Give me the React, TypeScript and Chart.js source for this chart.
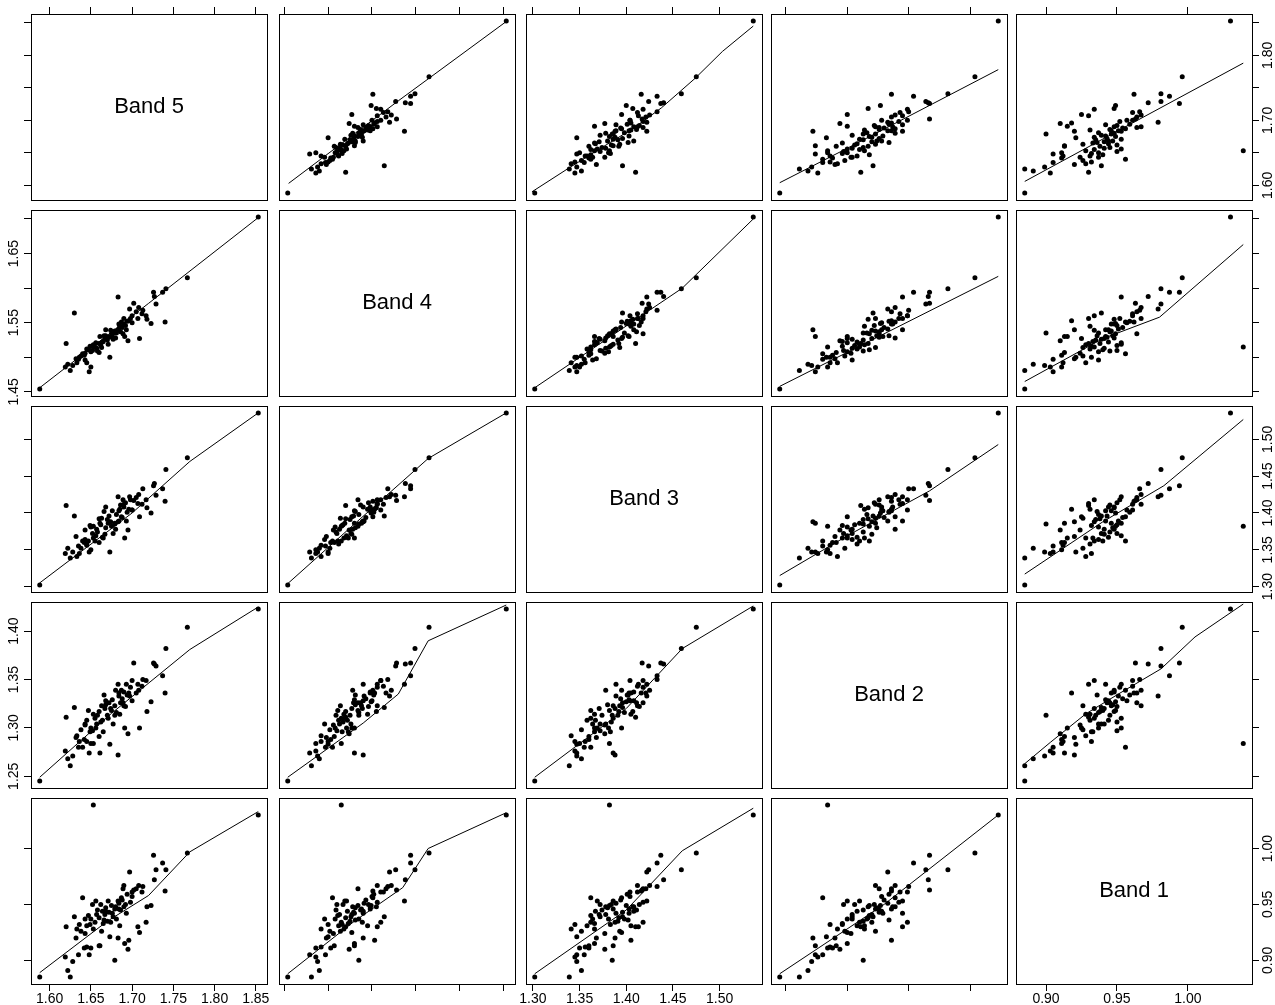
import React, { useEffect, useRef } from "react";
import { Chart, registerables } from "chart.js";

Chart.register(...registerables);

const FONT = "'Liberation Sans', Arial, Helvetica, sans-serif";
Chart.defaults.font.family = FONT;

// ---------- variable names (diagonal) ----------
const bandNames = ["Band 5", "Band 4", "Band 3", "Band 2", "Band 1"];

// ---------- observations (same order in every band) ----------
const band5 = [
  1.588, 1.853, 1.767, 1.741, 1.653, 1.740, 1.630, 1.620, 1.737, 1.726, 1.727, 1.702, 1.697, 1.708, 1.690,
  1.640, 1.652, 1.683, 1.661, 1.679, 1.717, 1.707, 1.696, 1.723, 1.718, 1.709, 1.695, 1.691, 1.683, 1.684,
  1.668, 1.625, 1.622, 1.628, 1.619, 1.648, 1.650, 1.645, 1.660, 1.673, 1.635, 1.642,
  1.632, 1.638, 1.643, 1.636, 1.645, 1.650, 1.655, 1.657, 1.653, 1.660, 1.664, 1.667, 1.670, 1.668, 1.672,
  1.675, 1.676, 1.679, 1.681, 1.684, 1.686, 1.688, 1.690, 1.687, 1.692, 1.694, 1.698, 1.700, 1.662, 1.665,
  1.671, 1.677, 1.658, 1.647, 1.666, 1.674, 1.680, 1.685, 1.663, 1.656, 1.649, 1.693, 1.689, 1.700, 1.705,
  1.712, 1.713, 1.643, 1.633, 1.729,
];
const band4 = [
  1.454, 1.703, 1.615, 1.599, 1.515, 1.551, 1.564, 1.520, 1.594, 1.594, 1.588, 1.578, 1.570, 1.572, 1.556,
  1.505, 1.510, 1.540, 1.530, 1.535, 1.560, 1.556, 1.553, 1.549, 1.555, 1.527, 1.524, 1.530, 1.587, 1.548,
  1.540, 1.481, 1.490, 1.488, 1.486, 1.479, 1.486, 1.492, 1.507, 1.500, 1.497, 1.503,
  1.498, 1.502, 1.506, 1.500, 1.512, 1.508, 1.515, 1.513, 1.518, 1.520, 1.522, 1.527, 1.525, 1.531, 1.529,
  1.534, 1.530, 1.538, 1.535, 1.541, 1.537, 1.543, 1.548, 1.551, 1.546, 1.552, 1.556, 1.550, 1.517, 1.523,
  1.519, 1.526, 1.509, 1.511, 1.531, 1.539, 1.528, 1.545, 1.514, 1.521, 1.516, 1.540, 1.534, 1.560, 1.566,
  1.563, 1.568, 1.496, 1.492, 1.577,
];
const band3 = [
  1.302, 1.536, 1.475, 1.459, 1.382, 1.416, 1.396, 1.410, 1.433, 1.437, 1.440, 1.417, 1.422, 1.425, 1.412,
  1.362, 1.372, 1.388, 1.386, 1.385, 1.418, 1.413, 1.405, 1.400, 1.407, 1.395, 1.377, 1.366, 1.422, 1.403,
  1.408, 1.339, 1.352, 1.347, 1.345, 1.347, 1.350, 1.356, 1.360, 1.347, 1.355, 1.360,
  1.368, 1.352, 1.377, 1.345, 1.358, 1.381, 1.362, 1.378, 1.366, 1.392, 1.367, 1.371, 1.391, 1.380, 1.396,
  1.382, 1.403, 1.386, 1.398, 1.389, 1.411, 1.394, 1.408, 1.395, 1.414, 1.401, 1.418, 1.404, 1.384, 1.366,
  1.386, 1.372, 1.374, 1.362, 1.402, 1.388, 1.378, 1.405, 1.393, 1.369, 1.383, 1.389, 1.418, 1.404, 1.421,
  1.412, 1.433, 1.364, 1.341, 1.424,
];
const band2 = [
  1.245, 1.423, 1.404, 1.382, 1.284, 1.336, 1.321, 1.311, 1.354, 1.367, 1.366, 1.367, 1.333, 1.339, 1.323,
  1.280, 1.297, 1.272, 1.274, 1.313, 1.349, 1.345, 1.336, 1.327, 1.317, 1.300, 1.294, 1.300, 1.345, 1.336,
  1.328, 1.261, 1.268, 1.271, 1.276, 1.274, 1.284, 1.286, 1.291, 1.283, 1.280, 1.288,
  1.290, 1.298, 1.303, 1.286, 1.308, 1.300, 1.310, 1.304, 1.314, 1.317, 1.308, 1.320, 1.313, 1.324, 1.326,
  1.318, 1.329, 1.323, 1.316, 1.333, 1.326, 1.330, 1.337, 1.339, 1.322, 1.334, 1.342, 1.328, 1.306, 1.296,
  1.310, 1.304, 1.313, 1.318, 1.334, 1.320, 1.339, 1.314, 1.323, 1.300, 1.296, 1.345, 1.326, 1.349, 1.336,
  1.343, 1.350, 1.304, 1.292, 1.364,
];
const band1 = [
  0.885, 1.030, 0.996, 0.981, 1.039, 0.962, 0.939, 0.930, 0.987, 0.994, 0.972, 0.963, 0.979, 0.967, 0.967,
  0.956, 0.950, 0.920, 0.913, 0.900, 0.934, 0.930, 0.918, 0.949, 0.948, 0.925, 0.910, 0.915, 0.953, 0.946,
  0.944, 0.885, 0.891, 0.899, 0.903, 0.905, 0.911, 0.912, 0.913, 0.921, 0.905, 0.911,
  0.920, 0.926, 0.924, 0.932, 0.931, 0.937, 0.934, 0.941, 0.928, 0.938, 0.944, 0.941, 0.935, 0.947, 0.943,
  0.949, 0.942, 0.946, 0.937, 0.951, 0.945, 0.954, 0.948, 0.956, 0.950, 0.959, 0.952, 0.957, 0.950, 0.933,
  0.953, 0.939, 0.945, 0.940, 0.936, 0.934, 0.948, 0.931, 0.926, 0.953, 0.932, 0.942, 0.964, 0.961, 0.964,
  0.961, 0.966, 0.937, 0.928, 0.981,
];
const bands = [band5, band4, band3, band2, band1];

// ---------- tick values and labels ----------
const band5Ticks = [1.6, 1.65, 1.7, 1.75, 1.8, 1.85];
const band4Ticks = [1.45, 1.5, 1.55, 1.6, 1.65, 1.7];
const band3Ticks = [1.3, 1.35, 1.4, 1.45, 1.5];
const band2Ticks = [1.25, 1.3, 1.35, 1.4];
const band1Ticks = [0.9, 0.95, 1.0];
const tickValues = [band5Ticks, band4Ticks, band3Ticks, band2Ticks, band1Ticks];

const band5BottomLabels = ["1.60", "1.65", "1.70", "1.75", "1.80", "1.85"];
const band3BottomLabels = ["1.30", "1.35", "1.40", "1.45", "1.50"];
const band1BottomLabels = ["0.90", "0.95", "1.00"];
const bottomLabels = [band5BottomLabels, null, band3BottomLabels, null, band1BottomLabels];

const band5SideLabels = ["1.60", "", "1.70", "", "1.80", ""];
const band4SideLabels = ["1.45", "", "1.55", "", "1.65", ""];
const band3SideLabels = ["1.30", "1.35", "1.40", "1.45", "1.50"];
const band2SideLabels = ["1.25", "1.30", "1.35", "1.40"];
const band1SideLabels = ["0.90", "0.95", "1.00"];
const sideLabels = [band5SideLabels, band4SideLabels, band3SideLabels, band2SideLabels, band1SideLabels];

// ---------- smooth (lowess) lines: [x, y], x = column band, y = row band ----------
const smoothR1C2 = [[1.455, 1.603], [1.58, 1.73], [1.703, 1.852]];
const smoothR1C3 = [[1.299, 1.59], [1.339, 1.627], [1.376, 1.66], [1.408, 1.688], [1.4375, 1.719], [1.474, 1.765], [1.503, 1.806], [1.536, 1.845]];
const smoothR1C4 = [[1.245, 1.604], [1.3, 1.657], [1.423, 1.778]];
const smoothR1C5 = [[0.885, 1.606], [0.95, 1.683], [1.039, 1.788]];
const smoothR2C1 = [[1.588, 1.456], [1.72, 1.578], [1.853, 1.702]];
const smoothR2C3 = [[1.302, 1.456], [1.46, 1.6], [1.536, 1.7]];
const smoothR2C4 = [[1.245, 1.458], [1.423, 1.617]];
const smoothR2C5 = [[0.885, 1.465], [0.94, 1.527], [0.98, 1.558], [1.039, 1.663]];
const smoothR3C1 = [[1.588, 1.305], [1.7, 1.4], [1.77, 1.47], [1.853, 1.536]];
const smoothR3C2 = [[1.454, 1.304], [1.53, 1.385], [1.614, 1.474], [1.703, 1.536]];
const smoothR3C4 = [[1.245, 1.315], [1.3, 1.369], [1.367, 1.43], [1.423, 1.493]];
const smoothR3C5 = [[0.885, 1.317], [0.94, 1.388], [0.983, 1.437], [1.039, 1.527]];
const smoothR4C1 = [[1.588, 1.249], [1.675, 1.315], [1.77, 1.381], [1.853, 1.425]];
const smoothR4C2 = [[1.454, 1.249], [1.54, 1.305], [1.58, 1.335], [1.614, 1.39], [1.703, 1.427]];
const smoothR4C3 = [[1.302, 1.249], [1.4, 1.32], [1.46, 1.382], [1.536, 1.426]];
const smoothR4C5 = [[0.885, 1.263], [0.903, 1.285], [0.928, 1.3145], [0.951, 1.335], [0.981, 1.361], [1.005, 1.394], [1.039, 1.428]];
const smoothR5C1 = [[1.588, 0.889], [1.67, 0.935], [1.72, 0.958], [1.77, 0.997], [1.853, 1.033]];
const smoothR5C2 = [[1.454, 0.888], [1.53, 0.935], [1.585, 0.965], [1.614, 1.0], [1.703, 1.032]];
const smoothR5C3 = [[1.302, 0.888], [1.4, 0.945], [1.46, 0.998], [1.536, 1.036]];
const smoothR5C4 = [[1.245, 0.888], [1.33, 0.95], [1.423, 1.03]];

const smoothLines: (number[][] | null)[][] = [
  [null, smoothR1C2, smoothR1C3, smoothR1C4, smoothR1C5],
  [smoothR2C1, null, smoothR2C3, smoothR2C4, smoothR2C5],
  [smoothR3C1, smoothR3C2, null, smoothR3C4, smoothR3C5],
  [smoothR4C1, smoothR4C2, smoothR4C3, null, smoothR4C5],
  [smoothR5C1, smoothR5C2, smoothR5C3, smoothR5C4, null],
];

// ---------- layout ----------
const COL_LEFT = [31, 279, 526, 771, 1016];
const ROW_TOP = [14, 210, 406, 602, 798];
const PW = 236;
const PH = 186;
const M = 40;

function range(vals: number[]): [number, number] {
  const lo = Math.min(...vals);
  const hi = Math.max(...vals);
  const pad = (hi - lo) * 0.04;
  return [lo - pad, hi + pad];
}
const ranges = bands.map(range);

function makeAxis(vi: number, position: string, showTicks: boolean, labels: string[] | null) {
  const vertical = position === "left" || position === "right";
  const [min, max] = ranges[vi];
  return {
    type: "linear",
    position,
    axis: vertical ? "y" : "x",
    min,
    max,
    afterBuildTicks: (s: any) => {
      s.ticks = tickValues[vi].map((v) => ({ value: v }));
    },
    afterFit: (s: any) => {
      if (vertical) s.width = M;
      else s.height = M;
    },
    grid: {
      display: showTicks,
      drawOnChartArea: false,
      drawTicks: true,
      tickLength: 7,
      color: "#000",
      lineWidth: 1,
    },
    border: { display: true, color: "#000", width: 1 },
    ticks: {
      display: !!labels,
      autoSkip: false,
      callback: (_v: any, i: number) => (labels ? labels[i] : ""),
      font: { size: 14, family: FONT },
      color: "#000",
      padding: vertical ? -4 : 0,
      minRotation: vertical ? 90 : 0,
      maxRotation: vertical ? 90 : 0,
      crossAlign: vertical ? "center" : "near",
    },
  };
}

const bandLabelPlugin = {
  id: "bandLabel",
  afterDraw(chart: any, _args: any, opts: any) {
    if (!opts || !opts.text) return;
    const { ctx, chartArea } = chart;
    ctx.save();
    ctx.font = `22px ${FONT}`;
    ctx.fillStyle = "#000";
    ctx.textAlign = "center";
    ctx.textBaseline = "middle";
    ctx.fillText(opts.text, (chartArea.left + chartArea.right) / 2, (chartArea.top + chartArea.bottom) / 2);
    ctx.restore();
  },
};

function Panel({ r, c }: { r: number; c: number }) {
  const ref = useRef<HTMLCanvasElement>(null);
  useEffect(() => {
    if (!ref.current) return;
    const datasets: any[] = [];
    const line = smoothLines[r][c];
    if (r !== c) {
      datasets.push({
        data: bands[c].map((v, k) => ({ x: v, y: bands[r][k] })),
        pointRadius: 2.5,
        pointBackgroundColor: "#000",
        pointBorderWidth: 0,
        showLine: false,
      });
    }
    if (line) {
      datasets.push({
        data: line.map(([x, y]) => ({ x, y })),
        showLine: true,
        borderColor: "#000",
        borderWidth: 1,
        pointRadius: 0,
        tension: 0,
        fill: false,
      });
    }
    const chart = new Chart(ref.current, {
      type: "scatter",
      data: { datasets },
      options: {
        animation: false,
        responsive: false,
        devicePixelRatio: 1,
        events: [],
        layout: { padding: 0 },
        plugins: {
          legend: { display: false },
          tooltip: { enabled: false },
          bandLabel: { text: r === c ? bandNames[r] : "" },
        } as any,
        scales: {
          x: makeAxis(c, "bottom", r === 4, r === 4 ? bottomLabels[c] : null),
          xTop: makeAxis(c, "top", r === 0, null),
          y: makeAxis(r, "left", c === 0, c === 0 && r % 2 === 1 ? sideLabels[r] : null),
          yRight: makeAxis(r, "right", c === 4, c === 4 && r % 2 === 0 ? sideLabels[r] : null),
        } as any,
      },
      plugins: [bandLabelPlugin],
    } as any);
    return () => chart.destroy();
  }, [r, c]);
  return (
    <canvas
      ref={ref}
      width={PW + 2 * M}
      height={PH + 2 * M}
      style={{
        position: "absolute",
        left: COL_LEFT[c] - M,
        top: ROW_TOP[r] - M,
        width: PW + 2 * M,
        height: PH + 2 * M,
      }}
    />
  );
}

export default function App() {
  const cells: React.ReactNode[] = [];
  for (let r = 0; r < 5; r++) {
    for (let c = 0; c < 5; c++) {
      cells.push(<Panel key={`${r}-${c}`} r={r} c={c} />);
    }
  }
  return (
    <div
      style={{
        position: "absolute",
        left: 0,
        top: 0,
        width: 1275,
        height: 1005,
        background: "#fff",
        overflow: "hidden",
      }}
    >
      {cells}
    </div>
  );
}
